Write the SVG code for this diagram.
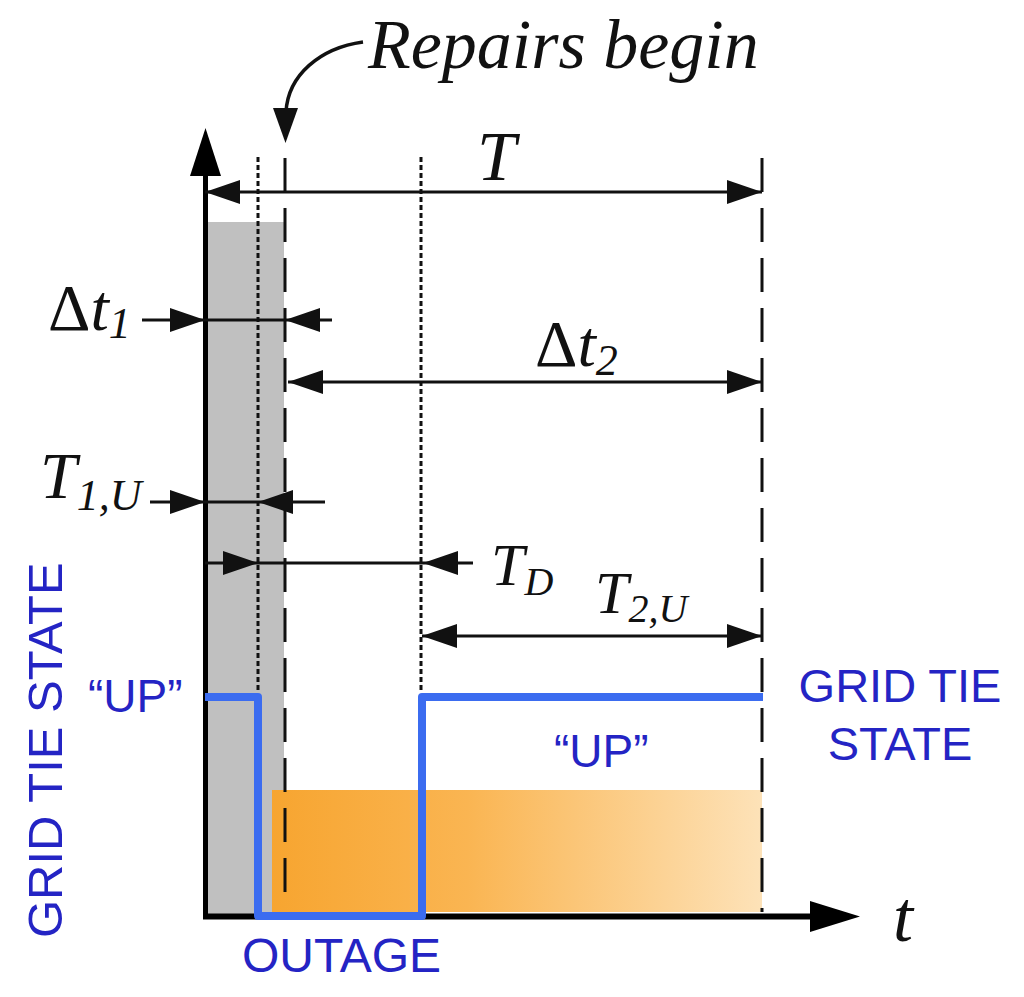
<svg xmlns="http://www.w3.org/2000/svg" width="1024" height="997" viewBox="0 0 1024 997">
<style>
.ser{font-family:"Liberation Serif","Times New Roman",serif;font-style:italic;fill:#111}
.san{font-family:"Liberation Sans",Arial,sans-serif;fill:#2424c4}
.dim{stroke:#111;stroke-width:3;fill:none}
.dot{stroke:#111;stroke-width:3;stroke-dasharray:5 3;fill:none}
.dash{stroke:#111;stroke-width:3;stroke-dasharray:34 16;fill:none}
</style>
<defs>
<marker id="ah" viewBox="0 0 35 24" refX="35" refY="12" markerWidth="35" markerHeight="24" markerUnits="userSpaceOnUse" orient="auto-start-reverse">
<path d="M0,0 L35,12 L0,24 z" fill="#111"/>
</marker>
<linearGradient id="og" x1="0" y1="0" x2="1" y2="0">
<stop offset="0" stop-color="#f7a530"/>
<stop offset="0.4" stop-color="#fab552"/>
<stop offset="1" stop-color="#fde2b8"/>
</linearGradient>
</defs>
<rect width="1024" height="997" fill="#fff"/>

<g id="regions">
<rect x="208" y="222" width="76" height="692" fill="#c0c0c0"/>
<rect x="272" y="790" width="490" height="122" fill="url(#og)"/>
</g>

<g id="guides">
<line class="dot" x1="258" y1="157" x2="258" y2="692"/>
<line class="dot" x1="421" y1="157" x2="421" y2="692"/>
<line class="dash" x1="285" y1="158" x2="285" y2="905"/>
<line class="dash" x1="762" y1="158" x2="762" y2="912"/>
</g>

<g id="axes">
<line x1="205.5" y1="919" x2="205.5" y2="170" stroke="#000" stroke-width="5"/>
<polygon points="205.5,128 190,176 221,176" fill="#000"/>
<line x1="203" y1="916.5" x2="815" y2="916.5" stroke="#000" stroke-width="6"/>
<polygon points="860,916.5 810,901 810,932" fill="#000"/>
<text class="ser" x="893" y="941" font-size="72">t</text>
</g>

<g id="grid-state">
<path d="M205 697 H258 V916 H422 V697 H763" fill="none" stroke="#3b6cf0" stroke-width="8" stroke-linejoin="round"/>
<text class="san" x="88" y="712" font-size="46">“UP”</text>
<text class="san" x="554" y="767" font-size="46">“UP”</text>
<text class="san" x="242" y="972" font-size="48">OUTAGE</text>
<text class="san" x="900" y="702" font-size="47" text-anchor="middle">GRID TIE</text>
<text class="san" x="900" y="760" font-size="47" text-anchor="middle">STATE</text>
<text class="san" transform="translate(62,938) rotate(-90)" font-size="49">GRID TIE STATE</text>
</g>

<g id="connectors">
<line class="dim" x1="205" y1="192" x2="762" y2="192" marker-start="url(#ah)" marker-end="url(#ah)"/>
<line class="dim" x1="142" y1="320" x2="205" y2="320" marker-end="url(#ah)"/>
<line class="dim" x1="205" y1="320" x2="285" y2="320"/>
<line class="dim" x1="332" y1="320" x2="285" y2="320" marker-end="url(#ah)"/>
<line class="dim" x1="288" y1="382" x2="762" y2="382" marker-start="url(#ah)" marker-end="url(#ah)"/>
<line class="dim" x1="150" y1="502" x2="205" y2="502" marker-end="url(#ah)"/>
<line class="dim" x1="205" y1="502" x2="258" y2="502"/>
<line class="dim" x1="325" y1="502" x2="258" y2="502" marker-end="url(#ah)"/>
<line class="dim" x1="205" y1="563" x2="258" y2="563" marker-end="url(#ah)"/>
<line class="dim" x1="258" y1="563" x2="423" y2="563"/>
<line class="dim" x1="473" y1="563" x2="423" y2="563" marker-end="url(#ah)"/>
<line class="dim" x1="422" y1="636" x2="762" y2="636" marker-start="url(#ah)" marker-end="url(#ah)"/>
<path d="M363 42 C320 48 288 75 286 112" fill="none" stroke="#111" stroke-width="3.5"/>
<polygon points="285.5,143 273,108 298,108" fill="#111"/>
</g>

<g id="labels">
<text class="ser" x="368" y="68" font-size="70">Repairs begin</text>
<text class="ser" x="477" y="180" font-size="70">T</text>
<text class="ser" x="48" y="330" font-size="66"><tspan font-style="normal">Δ</tspan>t<tspan font-size="44" dy="8">1</tspan></text>
<text class="ser" x="535" y="366" font-size="66"><tspan font-style="normal">Δ</tspan>t<tspan font-size="44" dy="9">2</tspan></text>
<text class="ser" x="40" y="498" font-size="66">T<tspan font-size="44" dy="12">1,U</tspan></text>
<text class="ser" x="491" y="585" font-size="60">T<tspan font-size="40" dy="10">D</tspan></text>
<text class="ser" x="595" y="613" font-size="60">T<tspan font-size="40" dy="9">2,U</tspan></text>
</g>
</svg>
